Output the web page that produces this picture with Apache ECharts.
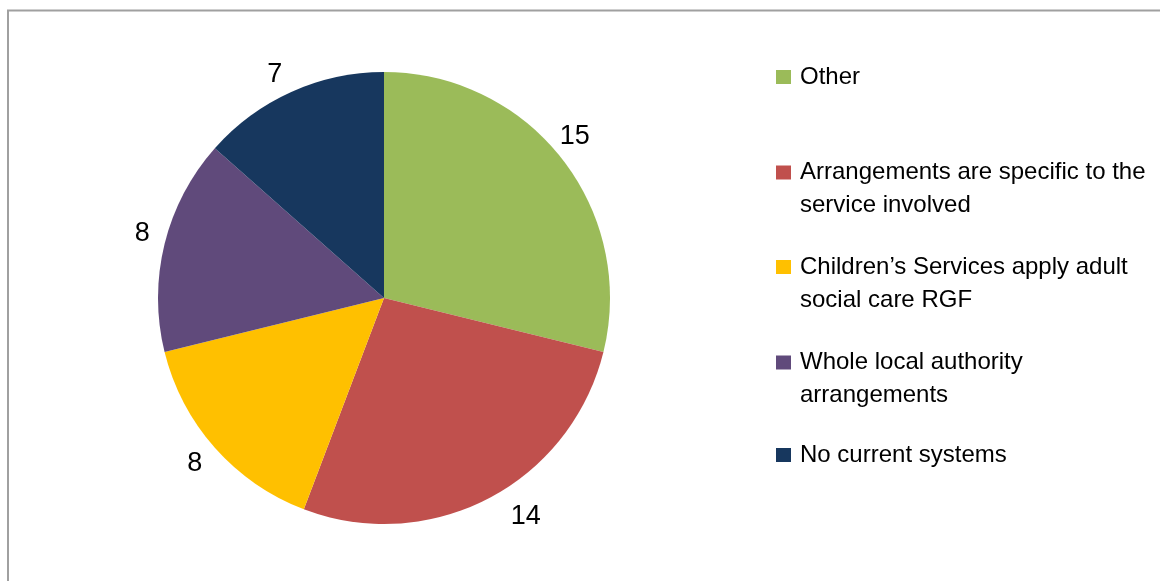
<!DOCTYPE html>
<html>
<head>
<meta charset="utf-8">
<script src="https://cdn.jsdelivr.net/npm/echarts@6/dist/echarts.min.js"></script>
<style>
html,body{margin:0;padding:0;background:#fff;}
#chart{width:1160px;height:581px;}
</style>
</head>
<body>
<div id="chart"></div>
<script>
// Data
const categories = [
  'Other',
  'Arrangements are specific to the service involved',
  "Children\u2019s Services apply adult social care RGF",
  'Whole local authority arrangements',
  'No current systems'
];
const legendLines = [
  ['Other'],
  ['Arrangements are specific to the', 'service involved'],
  ['Children\u2019s Services apply adult', 'social care RGF'],
  ['Whole local authority', 'arrangements'],
  ['No current systems']
];
const values = [15, 14, 8, 8, 7];
const colors = ['#9BBB59', '#C0504D', '#FFC000', '#604A7B', '#17375E'];

const FONT = '"Liberation Sans Narrow", "Arial Narrow", "Liberation Sans", Arial, sans-serif';
const LH = 33;
const legendIconCenters = [77, 172.5, 267, 362.5, 455];
const PIE_CENTER = [384, 298];

const legends = categories.map((name, i) => {
  const lines = legendLines[i];
  const multi = lines.length > 1;
  const top = multi ? legendIconCenters[i] - 7 - 42.5 : legendIconCenters[i] - 7 - 9.5;
  return {
    data: [name],
    orient: 'vertical',
    left: 776,
    top: top,
    padding: 0,
    icon: 'rect',
    itemWidth: 15,
    itemHeight: 14,
    selectedMode: false,
    formatter: () => (multi ? '\n' : '') + lines.join('\n'),
    textStyle: {
      fontFamily: FONT,
      fontSize: 24,
      lineHeight: LH,
      color: '#000',
      padding: [0, 0, 0, 4]
    }
  };
});

const chart = echarts.init(document.getElementById('chart'), null, {renderer: 'canvas'});
chart.setOption({
  animation: false,
  backgroundColor: '#fff',
  color: colors,
  graphic: [{
    type: 'rect',
    shape: {x: 8, y: 10.5, width: 1200, height: 620},
    style: {fill: 'none', stroke: '#a0a0a0', lineWidth: 2},
    silent: true
  }],
  legend: legends,
  series: [{
    type: 'pie',
    center: PIE_CENTER,
    radius: [0, 226],
    startAngle: 90,
    clockwise: true,
    avoidLabelOverlap: false,
    itemStyle: {borderWidth: 0},
    label: {
      show: true,
      position: 'outside',
      formatter: '{c}',
      fontFamily: FONT,
      fontSize: 27,
      color: '#000'
    },
    labelLine: {show: false, length: 10, length2: 0},
    labelLayout: function (p) {
      const r = p.labelRect;
      const cy = r.y + r.height / 2;
      const cx = r.x + r.width / 2;
      const up = cy < PIE_CENTER[1];
      const right = cx > PIE_CENTER[0];
      return {
        dy: (up ? (right ? -0.6 : -0.3) : 0.35) * r.height,
        dx: right ? (up ? -0.5 : 0.4) * r.width : 0
      };
    },
    emphasis: {disabled: true},
    data: categories.map((n, i) => ({name: n, value: values[i]}))
  }]
});
</script>
</body>
</html>
